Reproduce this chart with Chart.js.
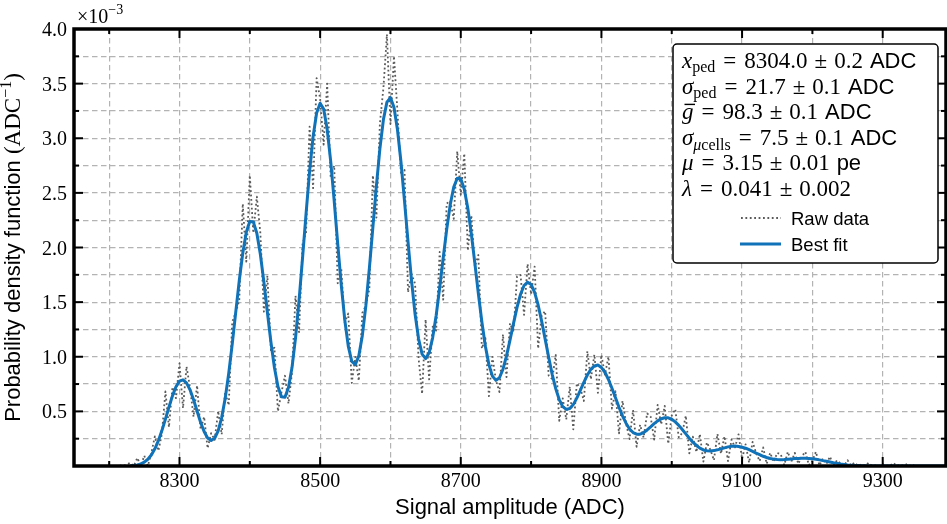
<!DOCTYPE html>
<html>
<head>
<meta charset="utf-8">
<script src="https://cdn.jsdelivr.net/npm/chart.js@4.4.1/dist/chart.umd.min.js"></script>
<style>
  html, body { margin: 0; padding: 0; background: #fff; }
  canvas { display: block; }
</style>
</head>
<body>
<canvas id="pdf" width="947" height="524"></canvas>
<script>
// axis ranges (ADC, and pdf in units of 1e-3 / ADC)
const xMin = 8150, xMax = 9390;
const yMin = 0, yMax = 4.0;
const xLabelTicks = [8300, 8500, 8700, 8900, 9100, 9300];
const xMinorTicks = [8200, 8400, 8600, 8800, 9000, 9200];
const yLabelTicks = [0.5, 1.0, 1.5, 2.0, 2.5, 3.0, 3.5, 4.0];

// best fit, one value every 5 ADC starting at 8230
const fitStart = 8230, fitStep = 5;
const fitValues = [
  0.002, 0.005, 0.010, 0.020, 0.036, 0.062, 0.101, 0.157, 0.232, 0.324,
  0.429, 0.539, 0.642, 0.725, 0.777, 0.789, 0.761, 0.697, 0.606, 0.503,
  0.401, 0.316, 0.257, 0.234, 0.254, 0.322, 0.443, 0.619, 0.847, 1.116,
  1.408, 1.697, 1.950, 2.140, 2.239, 2.235, 2.130, 1.938, 1.685, 1.407,
  1.135, 0.901, 0.728, 0.634, 0.629, 0.718, 0.901, 1.171, 1.513, 1.904,
  2.311, 2.696, 3.015, 3.231, 3.320, 3.268, 3.084, 2.791, 2.427, 2.036,
  1.661, 1.339, 1.097, 0.957, 0.928, 1.008, 1.193, 1.467, 1.808, 2.185,
  2.564, 2.905, 3.171, 3.331, 3.372, 3.283, 3.078, 2.780, 2.425, 2.051,
  1.697, 1.391, 1.164, 1.024, 0.983, 1.036, 1.173, 1.378, 1.631, 1.904,
  2.166, 2.391, 2.553, 2.634, 2.630, 2.534, 2.360, 2.126, 1.857, 1.579,
  1.318, 1.096, 0.928, 0.823, 0.784, 0.808, 0.886, 1.006, 1.152, 1.306,
  1.452, 1.572, 1.652, 1.683, 1.662, 1.590, 1.474, 1.326, 1.161, 0.995,
  0.839, 0.708, 0.608, 0.544, 0.518, 0.526, 0.562, 0.621, 0.692, 0.766,
  0.833, 0.885, 0.916, 0.924, 0.901, 0.858, 0.792, 0.712, 0.625, 0.538,
  0.459, 0.392, 0.339, 0.306, 0.291, 0.291, 0.305, 0.330, 0.358, 0.388,
  0.413, 0.432, 0.442, 0.441, 0.428, 0.404, 0.372, 0.334, 0.294, 0.254,
  0.218, 0.188, 0.164, 0.147, 0.139, 0.137, 0.141, 0.148, 0.157, 0.166,
  0.175, 0.180, 0.182, 0.179, 0.172, 0.163, 0.149, 0.134, 0.118, 0.104,
  0.089, 0.078, 0.069, 0.063, 0.060, 0.058, 0.059, 0.062, 0.065, 0.068,
  0.069, 0.071, 0.070, 0.069, 0.066, 0.061, 0.056, 0.049, 0.043, 0.036,
  0.029, 0.024, 0.018, 0.014, 0.010, 0.008, 0.005, 0.004, 0.002, 0.002,
  0.001, 0.001, 0, 0, 0, 0, 0, 0, 0, 0,
  0, 0, 0, 0, 0, 0, 0, 0, 0, 0,
  0, 0, 0
];

// raw histogram, one value every 5 ADC starting at 8215
const rawStart = 8215, rawStep = 5;
const rawValues = [
  0.006, 0.000, 0.014,
  0.028, 0.000, 0.074, 0.002, 0.094, 0.000, 0.120, 0.271, 0.139, 0.294,
  0.682, 0.355, 0.722, 0.621, 0.940, 0.530, 0.910, 0.718, 0.451, 0.737,
  0.335, 0.450, 0.162, 0.301, 0.240, 0.503, 0.289, 0.678, 0.556, 1.318,
  1.408, 1.516, 2.400, 1.871, 2.660, 2.133, 2.466, 2.132, 1.413, 1.741,
  1.060, 1.083, 0.500, 0.674, 0.826, 0.572, 0.855, 1.558, 1.225, 2.032,
  2.137, 3.106, 2.543, 3.550, 3.362, 2.942, 3.500, 2.639, 2.749, 1.673,
  1.811, 1.312, 1.396, 0.760, 0.998, 0.780, 1.401, 1.467, 1.621, 2.660,
  2.273, 3.137, 3.460, 3.950, 3.130, 3.750, 3.240, 2.666, 2.710, 1.590,
  1.758, 1.668, 0.985, 0.660, 1.341, 0.793, 1.275, 1.240, 1.959, 1.522,
  2.403, 2.426, 2.262, 2.880, 2.483, 2.860, 1.973, 2.294, 1.825, 1.931,
  1.075, 1.171, 0.640, 0.999, 0.784, 0.677, 1.204, 0.814, 1.306, 1.224,
  1.735, 1.748, 1.383, 1.850, 1.572, 1.825, 1.076, 1.380, 1.417, 0.827,
  0.794, 1.018, 0.414, 0.618, 0.427, 0.726, 0.335, 0.757, 0.713, 0.595,
  1.050, 0.794, 1.020, 0.670, 1.016, 0.836, 1.000, 0.525, 0.684, 0.298,
  0.597, 0.392, 0.246, 0.512, 0.176, 0.377, 0.260, 0.482, 0.452, 0.242,
  0.560, 0.381, 0.550, 0.204, 0.462, 0.520, 0.262, 0.304, 0.460, 0.116,
  0.269, 0.127, 0.292, 0.040, 0.216, 0.148, 0.053, 0.294, 0.112, 0.272,
  0.045, 0.241, 0.171, 0.290, 0.065, 0.198, 0.030, 0.220, 0.118, 0.045,
  0.170, 0.020, 0.120, 0.037, 0.120, 0.108, 0.008, 0.130, 0.039, 0.120,
  0.020, 0.089, 0.130, 0.008, 0.048, 0.130, 0.005, 0.069, 0.020, 0.086,
  0.002, 0.052, 0.022, 0.001, 0.053, 0.003, 0.031, 0.000, 0.015, 0.002,
  0.030, 0.000, 0.006, 0.000, 0.016, 0.004, 0.000, 0.028, 0.000, 0.012,
  0.002, 0.020, 0.000, 0.010
];

const fitColor = '#1072b8';
const rawColor = '#5a5a5a';
const SERIF = '"Liberation Serif", "DejaVu Serif", serif';
const SANS = '"Liberation Sans", "DejaVu Sans", sans-serif';

const toPoints = (start, step, vals) => vals.map((v, i) => ({ x: start + i * step, y: v }));

// draw a run of text pieces (p.g = extra gap in px)
function drawParts(ctx, x, y, parts) {
  for (const p of parts) {
    if (p.g) { x += p.g; continue; }
    ctx.font = p.f;
    ctx.fillText(p.t, x, y + (p.dy || 0));
    const w = ctx.measureText(p.t).width;
    if (p.bar) ctx.fillRect(x + 2.5, y - 15.5, w - 1, 1.4);
    x += w;
  }
  return x;
}
function partsWidth(ctx, parts) {
  let w = 0;
  for (const p of parts) {
    if (p.g) { w += p.g; continue; }
    ctx.font = p.f; w += ctx.measureText(p.t).width;
  }
  return w;
}

const rm = `23px ${SERIF}`, it = `italic 23px ${SERIF}`;
const sub = `16px ${SERIF}`, subIt = `italic 16px ${SERIF}`, sf = `22px ${SANS}`;
const eq = [{ g: 8 }, { t: '=', f: rm }, { g: 8 }];
const pm = [{ g: 7 }, { t: '±', f: rm }, { g: 7 }];
const fitText = [
  [{ t: 'x', f: it }, { t: 'ped', f: sub, dy: 4 }, ...eq, { t: '8304.0', f: rm }, ...pm, { t: '0.2', f: rm }, { g: 7 }, { t: 'ADC', f: sf }],
  [{ t: 'σ', f: it }, { t: 'ped', f: sub, dy: 4 }, ...eq, { t: '21.7', f: rm }, ...pm, { t: '0.1', f: rm }, { g: 7 }, { t: 'ADC', f: sf }],
  [{ t: 'g', f: it, bar: true }, ...eq, { t: '98.3', f: rm }, ...pm, { t: '0.1', f: rm }, { g: 7 }, { t: 'ADC', f: sf }],
  [{ t: 'σ', f: it }, { t: 'μ', f: subIt, dy: 5 }, { t: 'cells', f: sub, dy: 5 }, ...eq, { t: '7.5', f: rm }, ...pm, { t: '0.1', f: rm }, { g: 7 }, { t: 'ADC', f: sf }],
  [{ t: 'μ', f: it }, ...eq, { t: '3.15', f: rm }, ...pm, { t: '0.01', f: rm }, { g: 7 }, { t: 'pe', f: sf }],
  [{ t: 'λ', f: it }, ...eq, { t: '0.041', f: rm }, ...pm, { t: '0.002', f: rm }]
];

const decorations = {
  id: 'decorations',
  afterDraw(chart) {
    const { ctx, chartArea: a, scales: { x, y } } = chart;
    ctx.save();
    ctx.strokeStyle = '#000';
    ctx.fillStyle = '#000';
    const seg = (x1, y1, x2, y2) => { ctx.beginPath(); ctx.moveTo(x1, y1); ctx.lineTo(x2, y2); ctx.stroke(); };

    // inward ticks on all four sides
    ctx.lineWidth = 2;
    [...xLabelTicks, ...xMinorTicks].forEach(v => {
      const px = x.getPixelForValue(v);
      const len = xLabelTicks.includes(v) ? 9 : 5;
      seg(px, a.bottom, px, a.bottom - len);
      seg(px, a.top, px, a.top + len);
    });
    for (let k = 1; k < 16; k++) {
      const py = y.getPixelForValue(k * 0.25);
      const len = k % 2 === 0 ? 9 : 5;
      seg(a.left, py, a.left + len, py);
      seg(a.right, py, a.right - len, py);
    }
    ctx.lineWidth = 3.5;
    ctx.strokeRect(a.left, a.top, a.right - a.left, a.bottom - a.top);

    // tick labels
    ctx.font = `20px ${SERIF}`;
    ctx.textBaseline = 'alphabetic';
    ctx.textAlign = 'center';
    xLabelTicks.forEach(v => ctx.fillText(String(v), x.getPixelForValue(v), a.bottom + 21));
    ctx.textAlign = 'right';
    yLabelTicks.forEach(v => ctx.fillText(v.toFixed(1), a.left - 7, y.getPixelForValue(v) + 7));
    ctx.textAlign = 'left';
    drawParts(ctx, 77, 23, [{ t: '×10', f: `20px ${SERIF}` }, { t: '−3', f: `14px ${SERIF}`, dy: -9 }]);

    // axis titles
    ctx.font = `22px ${SANS}`;
    ctx.textAlign = 'center';
    ctx.fillText('Signal amplitude (ADC)', (a.left + a.right) / 2, 514);
    ctx.textAlign = 'left';
    const yTitle = [
      { t: 'Probability density function ', f: `22px ${SANS}` },
      { t: '(ADC', f: `23px ${SERIF}` },
      { t: '−1', f: `16px ${SERIF}`, dy: -9 },
      { t: ')', f: `23px ${SERIF}` }
    ];
    ctx.save();
    ctx.translate(20, (a.top + a.bottom) / 2);
    ctx.rotate(-Math.PI / 2);
    drawParts(ctx, -partsWidth(ctx, yTitle) / 2, 0, yTitle);
    ctx.restore();

    // legend box with fit results
    ctx.beginPath();
    ctx.roundRect(673, 44, 265, 219, 4);
    ctx.fillStyle = '#fff';
    ctx.fill();
    ctx.lineWidth = 1.5;
    ctx.strokeStyle = '#000';
    ctx.stroke();
    ctx.fillStyle = '#000';
    fitText.forEach((parts, i) => drawParts(ctx, 682, 68 + i * 25.6, parts));

    ctx.lineWidth = 1.8;
    ctx.strokeStyle = rawColor;
    ctx.setLineDash([1.8, 2.6]);
    seg(741, 218, 781, 218);
    ctx.setLineDash([]);
    ctx.lineWidth = 3;
    ctx.strokeStyle = fitColor;
    seg(740, 244, 781, 244);
    ctx.font = `18.5px ${SANS}`;
    ctx.fillText('Raw data', 791, 225);
    ctx.fillText('Best fit', 791, 251);
    ctx.restore();
  }
};

new Chart(document.getElementById('pdf'), {
  type: 'scatter',
  data: {
    datasets: [{
      label: 'Best fit',
      data: toPoints(fitStart, fitStep, fitValues),
      showLine: true,
      borderColor: fitColor,
      borderWidth: 3,
      borderJoinStyle: 'round',
      pointRadius: 0,
      tension: 0
    }, {
      label: 'Raw data',
      data: toPoints(rawStart, rawStep, rawValues),
      showLine: true,
      borderColor: rawColor,
      borderWidth: 1.8,
      borderDash: [1.8, 2.6],
      borderJoinStyle: 'round',
      pointRadius: 0,
      tension: 0
    }]
  },
  options: {
    responsive: false,
    animation: false,
    layout: { padding: { top: 29, right: 1, left: 0, bottom: 0 } },
    scales: {
      x: {
        type: 'linear',
        min: xMin,
        max: xMax,
        afterFit: s => { s.height = 58; },
        ticks: { stepSize: 100, includeBounds: false, display: false },
        grid: { color: '#b3b3b3', lineWidth: 1.2, drawTicks: false },
        border: { display: false, dash: [5.5, 3.5] }
      },
      y: {
        min: yMin,
        max: yMax,
        afterFit: s => { s.width = 74; },
        ticks: { stepSize: 0.25, display: false },
        grid: { color: '#b3b3b3', lineWidth: 1.2, drawTicks: false },
        border: { display: false, dash: [5.5, 3.5] }
      }
    },
    plugins: {
      legend: { display: false },
      tooltip: { enabled: false }
    }
  },
  plugins: [decorations]
});
</script>
</body>
</html>
